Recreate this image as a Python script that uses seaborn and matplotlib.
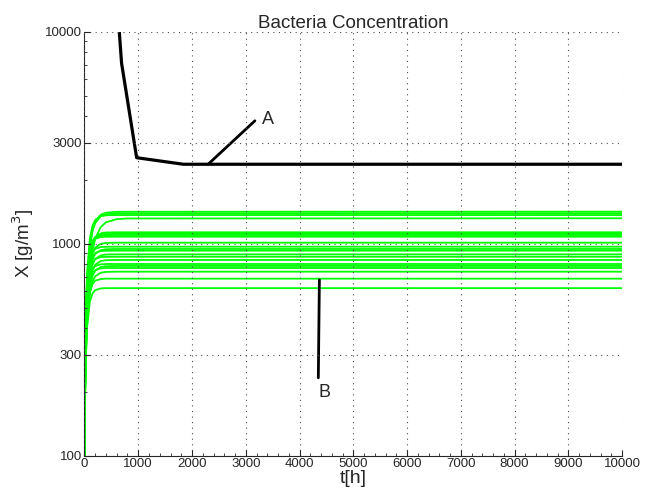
import numpy as np
import pandas as pd
import matplotlib
matplotlib.use('Agg')
import matplotlib.pyplot as plt
import seaborn as sns
from matplotlib.ticker import FixedLocator, NullFormatter, MultipleLocator

# time grid (h) of the green trajectories
t_green = [0, 5, 10, 25, 50, 100, 150, 200, 300, 400, 600, 800, 10000]

# green trajectories, values (g/m3)
green_curves = [
    [100, 171, 238, 420, 661, 983, 1167, 1274, 1369, 1400, 1414, 1415, 1416],
    [100, 170, 236, 414, 650, 966, 1147, 1252, 1345, 1376, 1389, 1390, 1391],
    [100, 187, 268, 479, 745, 1061, 1217, 1293, 1348, 1361, 1365, 1365, 1365],
    [100, 146, 190, 313, 489, 754, 934, 1056, 1197, 1262, 1306, 1315, 1318],
    [100, 171, 237, 410, 626, 884, 1011, 1073, 1118, 1129, 1132, 1132, 1132],
    [100, 170, 235, 404, 618, 871, 996, 1057, 1101, 1112, 1115, 1115, 1115],
    [100, 187, 266, 465, 696, 937, 1034, 1073, 1095, 1098, 1099, 1099, 1099],
    [100, 185, 263, 457, 684, 920, 1015, 1054, 1075, 1078, 1079, 1079, 1079],
    [100, 163, 221, 373, 565, 792, 904, 959, 998, 1008, 1011, 1011, 1011],
    [100, 176, 244, 417, 618, 827, 911, 945, 964, 967, 968, 968, 968],
    [100, 158, 212, 353, 530, 741, 845, 896, 932, 941, 944, 944, 944],
    [100, 172, 237, 402, 594, 793, 873, 905, 923, 926, 927, 927, 927],
    [100, 155, 205, 337, 503, 701, 798, 846, 880, 889, 891, 891, 891],
    [100, 167, 227, 380, 558, 744, 818, 848, 865, 867, 868, 868, 868],
    [100, 151, 198, 321, 476, 661, 752, 796, 828, 836, 838, 838, 838],
    [100, 161, 217, 356, 519, 688, 756, 784, 799, 802, 802, 802, 802],
    [100, 147, 191, 305, 449, 621, 705, 746, 776, 783, 785, 785, 785],
    [100, 158, 211, 344, 499, 660, 724, 751, 765, 768, 768, 768, 768],
    [100, 144, 185, 291, 425, 585, 663, 702, 729, 736, 738, 738, 738],
    [100, 151, 197, 313, 449, 589, 646, 669, 681, 684, 684, 684, 684],
    [100, 145, 186, 289, 409, 533, 583, 604, 615, 617, 617, 617, 617],
]

# black trajectory (curve A)
t_black = [600, 690, 970, 1840, 10000]
x_black = [14500, 7100, 2545, 2370, 2370]

# annotation pointers and labels
a_line_t = [2300, 3170]
a_line_x = [2370, 3800]
a_label = (3300, 3850)
b_line_t = [4370, 4350]
b_line_x = [675, 233]
b_label = (4470, 198)

yticks = [100, 300, 1000, 3000, 10000]
xticks = list(range(0, 10001, 1000))

rows = []
for i, vals in enumerate(green_curves):
    for t, v in zip(t_green, vals):
        rows.append({'curve': i, 't': t, 'X': v})
df = pd.DataFrame(rows)

sns.set_style('ticks')
plt.rcParams['font.family'] = ['Liberation Sans', 'DejaVu Sans']
plt.rcParams['xtick.direction'] = 'in'
plt.rcParams['ytick.direction'] = 'in'

fig = plt.figure(figsize=(6.52, 4.98), dpi=100)
ax = fig.add_axes([0.1296, 0.085, 0.8244, 0.8513])

sns.lineplot(data=df, x='t', y='X', units='curve', estimator=None,
             color='#00ff00', linewidth=1.3, ax=ax, legend=False)
sns.lineplot(x=t_black, y=x_black, color='black', linewidth=2.3, ax=ax,
             estimator=None, sort=False)

ax.plot(a_line_t, a_line_x, color='black', linewidth=2.0)
ax.plot(b_line_t, b_line_x, color='black', linewidth=2.0)
ax.text(a_label[0], a_label[1], 'A', fontsize=13, va='center', ha='left')
ax.text(b_label[0], b_label[1], 'B', fontsize=13, va='center', ha='center')

ax.set_yscale('log')
ax.set_xlim(0, 10000)
ax.set_ylim(100, 10000)
ax.yaxis.set_major_locator(FixedLocator(yticks))
ax.set_yticklabels([str(v) for v in yticks])
ax.yaxis.set_minor_locator(FixedLocator(
    [v * m for m in (100, 1000) for v in range(2, 10)]))
ax.yaxis.set_minor_formatter(NullFormatter())
ax.set_xticks(xticks)
ax.set_xticklabels([str(v) for v in xticks])
ax.xaxis.set_minor_locator(MultipleLocator(200))

ax.tick_params(which='major', length=4, width=0.8, labelsize=9.5, pad=2)
ax.tick_params(which='minor', length=2, width=0.6)

ax.grid(True, which='major', linestyle=(0, (1, 4)), color='0.3', linewidth=0.8)
ax.set_axisbelow(False)
sns.despine(ax=ax)
for s in ('left', 'bottom'):
    ax.spines[s].set_linewidth(0.8)

ax.set_title('Bacteria Concentration', fontsize=13.5, pad=3)
ax.set_xlabel('t[h]', fontsize=14, labelpad=0)
ax.set_ylabel('X [g/m$^3$]', fontsize=13.5, labelpad=6)

fig.savefig('out.png', dpi=100)
